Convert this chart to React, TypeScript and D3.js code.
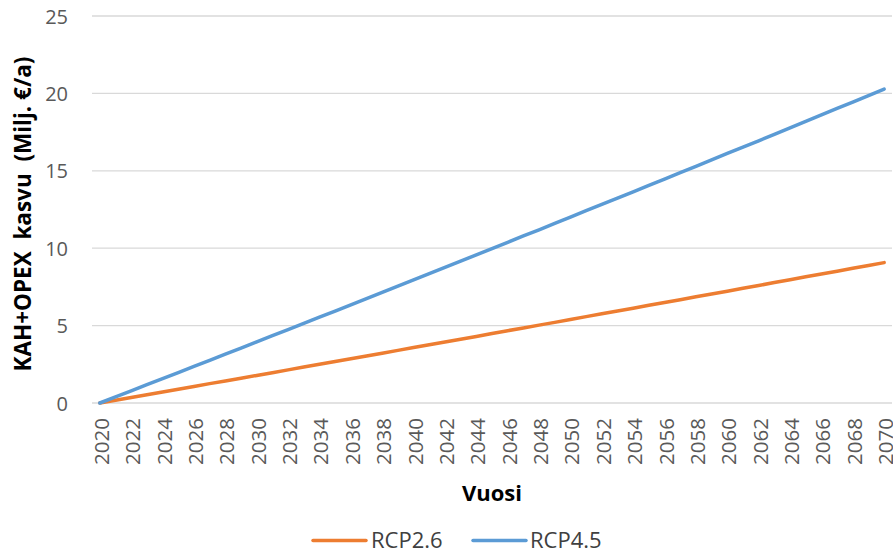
import * as d3 from "d3";

const years: number[] = d3.range(2020, 2071);
const yTicks = [0, 5, 10, 15, 20, 25];

const rcp26 = [
  0, 0.18, 0.36, 0.53, 0.71, 0.89, 1.07, 1.25, 1.42, 1.6, 1.78, 1.96, 2.14, 2.32, 2.5, 2.68, 2.86,
  3.04, 3.22, 3.4, 3.58, 3.76, 3.94, 4.12, 4.3, 4.49, 4.67, 4.85, 5.03, 5.21, 5.39, 5.58, 5.76, 5.94,
  6.12, 6.31, 6.49, 6.67, 6.86, 7.04, 7.22, 7.41, 7.59, 7.78, 7.96, 8.15, 8.33, 8.51, 8.7, 8.88, 9.07,
];

const rcp45 = [
  0, 0.39, 0.79, 1.18, 1.57, 1.97, 2.36, 2.76, 3.15, 3.55, 3.95, 4.35, 4.74, 5.14, 5.54, 5.94, 6.34,
  6.74, 7.15, 7.55, 7.95, 8.35, 8.76, 9.16, 9.57, 9.97, 10.38, 10.79, 11.19, 11.6, 12.01, 12.42,
  12.83, 13.23, 13.64, 14.06, 14.47, 14.88, 15.29, 15.7, 16.12, 16.53, 16.94, 17.36, 17.78, 18.19,
  18.61, 19.03, 19.44, 19.86, 20.28,
];

const series = [
  { name: "RCP2.6", color: "#ED7D31", values: rcp26 },
  { name: "RCP4.5", color: "#5B9BD5", values: rcp45 },
];

const width = 893;
const height = 550;
const plot = { left: 92, right: 892, top: 16, bottom: 403 };
const font = "'Open Sans', 'Liberation Sans', sans-serif";

export default function App() {
  const x = d3
    .scalePoint<number>()
    .domain(years)
    .range([plot.left, plot.right])
    .padding(0.5);

  const y = d3.scaleLinear().domain([0, 25]).range([plot.bottom, plot.top]);

  const line = d3
    .line<number>()
    .x((_, i) => x(years[i]) as number)
    .y((d) => y(d));

  // legend layout
  const legendY = 540.5;
  const legendItems = [
    { lx: 313, tx: 371 },
    { lx: 473, tx: 530 },
  ];

  return (
    <svg
      width={width}
      height={height}
      style={{ position: "absolute", left: 0, top: 0, display: "block", background: "#fff" }}
      fontFamily={font}
    >
      {/* grid */}
      {yTicks.map((t) => (
        <line
          key={t}
          x1={plot.left}
          x2={plot.right}
          y1={y(t)}
          y2={y(t)}
          stroke="#d9d9d9"
          strokeWidth={1.3}
        />
      ))}

      {/* y tick labels */}
      {yTicks.map((t) => (
        <text
          key={t}
          x={68}
          y={y(t)}
          textAnchor="end"
          dominantBaseline="central"
          fontSize={20}
          fill="#595959"
        >
          {t}
        </text>
      ))}

      {/* x tick labels */}
      {years
        .filter((yr) => (yr - 2020) % 2 === 0)
        .map((yr) => (
          <text
            key={yr}
            transform={`translate(${(x(yr) as number) + 1},${418}) rotate(-90)`}
            textAnchor="end"
            dominantBaseline="central"
            fontSize={20.5}
            fill="#595959"
          >
            {yr}
          </text>
        ))}

      {/* lines */}
      {series.map((s) => (
        <path
          key={s.name}
          d={line(s.values) ?? ""}
          fill="none"
          stroke={s.color}
          strokeWidth={3.5}
          strokeLinecap="round"
          strokeLinejoin="round"
        />
      ))}

      {/* axis titles */}
      <text
        x={(plot.left + plot.right) / 2}
        y={501}
        textAnchor="middle"
        fontSize={22}
        fontWeight="bold"
        fill="#000"
      >
        Vuosi
      </text>
      <text
        transform={`translate(22,${214}) rotate(-90)`}
        textAnchor="middle"
        dominantBaseline="central"
        fontSize={22.5}
        fontWeight="bold"
        fill="#000"
        style={{ whiteSpace: "pre" }}
      >
        {"KAH+OPEX  kasvu  (Milj. €/a)"}
      </text>

      {/* legend */}
      {series.map((s, i) => (
        <g key={s.name}>
          <line
            x1={legendItems[i].lx}
            x2={legendItems[i].lx + 53}
            y1={legendY}
            y2={legendY}
            stroke={s.color}
            strokeWidth={3.5}
            strokeLinecap="round"
          />
          <text
            x={legendItems[i].tx}
            y={539}
            dominantBaseline="central"
            fontSize={22}
            fill="#404040"
          >
            {s.name}
          </text>
        </g>
      ))}
    </svg>
  );
}
